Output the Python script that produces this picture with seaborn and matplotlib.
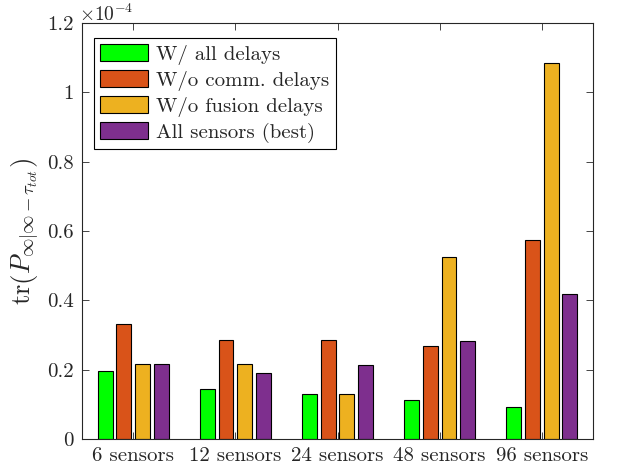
import pandas as pd
import matplotlib
matplotlib.use("Agg")
import matplotlib.pyplot as plt
import seaborn as sns
from matplotlib.ticker import FuncFormatter

groups = ["6 sensors", "12 sensors", "24 sensors", "48 sensors", "96 sensors"]
series = ["W/ all delays", "W/o comm. delays", "W/o fusion delays", "All sensors (best)"]
all_delays = [0.195e-4, 0.144e-4, 0.131e-4, 0.112e-4, 0.093e-4]
no_comm = [0.331e-4, 0.285e-4, 0.285e-4, 0.267e-4, 0.574e-4]
no_fusion = [0.217e-4, 0.215e-4, 0.131e-4, 0.526e-4, 1.084e-4]
all_sensors = [0.217e-4, 0.191e-4, 0.213e-4, 0.283e-4, 0.418e-4]
colors = ["#00FF00", "#D95319", "#EDB120", "#7E2F8E"]

sns.set_style("ticks")
plt.rcParams["font.family"] = ["cmr10"]
plt.rcParams["mathtext.fontset"] = "cm"
plt.rcParams["axes.unicode_minus"] = False

rows = []
for name, vals in zip(series, [all_delays, no_comm, no_fusion, all_sensors]):
    for g, v in zip(groups, vals):
        rows.append({"group": g, "series": name, "value": v})
df = pd.DataFrame(rows)

fig = plt.figure(figsize=(6.19, 4.71), dpi=100)
ax = fig.add_axes([0.1325, 0.068, 0.8255, 0.883])
sns.barplot(data=df, x="group", y="value", hue="series", order=groups,
            hue_order=series, palette=colors, saturation=1, width=0.73,
            gap=0.2, edgecolor="black", linewidth=0.8, ax=ax)

ax.set_xlim(-0.5, 4.5)
ax.set_ylim(0, 1.2e-4)
ax.set_yticks([i * 0.2e-4 for i in range(7)])
ax.yaxis.set_major_formatter(FuncFormatter(lambda v, p: f"{v * 1e4:g}"))
ax.text(-0.005, 1.004, r"$\times10^{-4}$", transform=ax.transAxes, fontsize=14,
        ha="left", va="baseline", color="#262626")
ax.set_xlabel("")
ax.set_ylabel(r"$\mathrm{tr}\left(P_{\infty|\infty-\tau_{tot}}\right)$", fontsize=19,
              labelpad=4)

for s in ax.spines.values():
    s.set_visible(True)
    s.set_color("#262626")
    s.set_linewidth(0.8)
ax.tick_params(direction="in", length=5, width=0.6, top=True, right=True,
               labelsize=15, colors="#262626", pad=6)

leg = ax.legend(loc="upper left", bbox_to_anchor=(0.023, 0.964), fontsize=15,
                fancybox=False, framealpha=1, edgecolor="black",
                handlelength=2.3, handleheight=0.87, labelspacing=0.25,
                borderaxespad=0.0, handletextpad=0.4, borderpad=0.3)
leg.get_frame().set_linewidth(0.8)

fig.savefig("out.png", dpi=100)
